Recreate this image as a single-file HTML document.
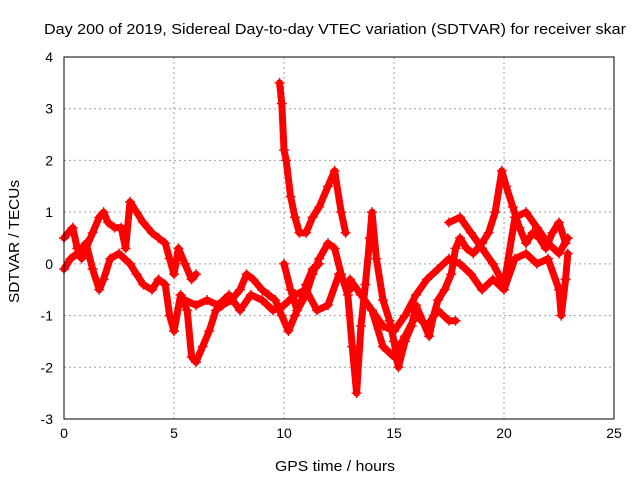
<!DOCTYPE html>
<html><head><meta charset="utf-8"><style>
body{margin:0;background:#fff;}
svg text{font-family:"Liberation Sans",sans-serif;font-size:14px;fill:#000;}
</style></head><body>
<svg id="chart" width="640" height="480">
<text x="44" y="34" textLength="582" lengthAdjust="spacingAndGlyphs" style="font-size:15px">Day 200 of 2019, Sidereal Day-to-day VTEC variation (SDTVAR) for receiver skar</text>
<text x="275" y="471" textLength="120" lengthAdjust="spacingAndGlyphs" style="font-size:15px">GPS time / hours</text>
<text transform="translate(19,303) rotate(-90)" textLength="123" lengthAdjust="spacingAndGlyphs" style="font-size:15px">SDTVAR / TECUs</text>
<g id="grid"></g><g id="axes"></g><g id="marks"></g>
<rect x="64" y="57" width="550" height="362" fill="none" stroke="#000" stroke-width="1"/>
</svg>
<script>
const xTicks=[0,5,10,15,20,25];
const yTicks=[-3,-2,-1,0,1,2,3,4];
const trackA=[[0,0.5],[0.2,0.6],[0.4,0.7],[0.6,0.3],[0.8,0.1],[1,0.3],[1.3,0.6],[1.6,0.9],[1.8,1.0],[2,0.8],[2.3,0.7],[2.6,0.7],[2.8,0.3],[3,1.2],[3.3,1.0],[3.6,0.8],[4,0.6],[4.3,0.5],[4.6,0.4],[4.8,0.1],[5,-0.2],[5.2,0.3],[5.5,0.0],[5.8,-0.3],[6,-0.2]];
const trackB=[[0,-0.1],[0.3,0.1],[0.6,0.2],[1,0.4],[1.3,-0.1],[1.6,-0.5],[1.8,-0.3],[2.1,0.1],[2.5,0.2],[3,0],[3.3,-0.2],[3.6,-0.4],[4,-0.5],[4.3,-0.3],[4.6,-0.4],[4.8,-1.0],[5,-1.3],[5.3,-0.6],[5.6,-0.9],[5.8,-1.8],[6,-1.9],[6.3,-1.6],[6.6,-1.3],[6.9,-0.9],[7.2,-0.8],[7.6,-0.7],[8,-0.5],[8.3,-0.2],[8.6,-0.3],[9,-0.5],[9.3,-0.6],[9.6,-0.7],[9.9,-1.0],[10.2,-1.3],[10.5,-1.0],[10.8,-0.7],[11,-0.4],[11.3,-0.1],[11.6,0.0]];
const trackC=[[5.5,-0.7],[6,-0.8],[6.5,-0.7],[7,-0.8],[7.5,-0.6],[8,-0.9],[8.5,-0.6],[9,-0.7],[9.5,-0.9],[10,-0.8],[10.5,-0.6],[11,-0.5],[11.5,-0.9],[12,-0.8],[12.5,-0.2],[13,-0.5]];
const trackD=[[9.8,3.5],[9.9,3.1],[10,2.2],[10.1,2.0],[10.3,1.3],[10.5,0.9],[10.7,0.6],[11,0.6],[11.3,0.9],[11.6,1.1],[12,1.5],[12.3,1.8],[12.6,1.0],[12.8,0.6]];
const trackE=[[10,0],[10.3,-0.5],[10.6,-0.9],[11,-0.6],[11.3,-0.2],[11.6,0.1],[12,0.4],[12.3,0.3],[12.6,-0.2],[12.9,-0.6],[13.1,-1.6],[13.3,-2.5],[13.5,-1.2],[13.7,-0.4],[13.9,0.5],[14,1.0],[14.2,0.1],[14.5,-0.7],[14.8,-1.1],[15,-1.5],[15.2,-2.0],[15.5,-1.5],[15.8,-1.2],[16,-0.8],[16.3,-1.1],[16.6,-1.4],[16.8,-1.0],[17,-0.7],[17.3,-0.5],[17.6,-0.2],[17.8,0.3],[18,0.5],[18.3,0.3],[18.6,0.2],[19,0.4],[19.3,0.6],[19.6,1.0],[19.9,1.8],[20.1,1.5],[20.4,1.1],[20.7,0.7],[21,0.4],[21.3,0.6],[21.6,0.5],[21.9,0.3],[22.2,0.6],[22.5,0.8],[22.8,0.4]];
const trackF=[[13,-0.3],[13.5,-0.6],[14,-0.9],[14.5,-1.2],[15,-1.3],[15.5,-1.0],[16,-0.6],[16.5,-0.3],[17,-0.1],[17.5,0.1],[18,0.0],[18.5,-0.2],[19,-0.5],[19.5,-0.3],[20,-0.5],[20.5,0.1],[21,0.2],[21.5,0.0],[22,0.1],[22.5,-0.5],[22.6,-1.0],[22.8,-0.3],[22.9,0.2]];
const trackG=[[14,-0.9],[14.5,-1.6],[15,-1.8],[15.5,-1.4],[16,-1.0],[16.5,-1.2],[17,-0.9],[17.5,-1.1],[17.8,-1.1]];
const trackH=[[17.5,0.8],[18,0.9],[18.5,0.6],[19,0.3],[19.5,0.0],[20,-0.4],[20.5,0.9],[21,1.0],[21.5,0.7],[22,0.4],[22.5,0.2],[22.9,0.5]];
const tracks=[trackA,trackB,trackC,trackD,trackE,trackF,trackG,trackH];
const NS='http://www.w3.org/2000/svg';
const X0=64,X1=614,Y0=419,Y1=57;
function sx(t){return X0+(t-0)/(25-0)*(X1-X0);}
function sy(v){return Y0-(v+3)/7*(Y0-Y1);}
function mk(tag,attrs,parent){const e=document.createElementNS(NS,tag);for(const k in attrs)e.setAttribute(k,attrs[k]);parent.appendChild(e);return e;}
const grid=document.getElementById('grid'),axes=document.getElementById('axes'),marks=document.getElementById('marks');
xTicks.forEach(t=>{const x=sx(t);
 if(t>0&&t<25){const g=mk('line',{x1:x,x2:x,y1:Y1,y2:Y0,stroke:'#a0a0a0','stroke-dasharray':'2,3'},grid);
 
 }
 const l=mk('text',{x:x,y:Y0+19,'text-anchor':'middle'},axes);l.textContent=t;
 
 
});
yTicks.forEach(v=>{const y=sy(v);
 if(v>-3&&v<4){const g=mk('line',{x1:X0,x2:X1,y1:y,y2:y,stroke:'#a0a0a0','stroke-dasharray':'2,3'},grid);
 
 }
 const l=mk('text',{x:53,y:y+5,'text-anchor':'end'},axes);l.textContent=v;
 
 
});
tracks.forEach(tr=>{
 const p=mk('polyline',{points:tr.map(d=>sx(d[0])+','+sy(d[1])).join(' '),fill:'none',stroke:'#ff0000','stroke-width':7,'stroke-linejoin':'round','stroke-linecap':'round'},marks);
 
 
 tr.forEach(d=>{const x=sx(d[0]),y=sy(d[1]);
  const m=mk('path',{d:`M${x-5},${y}H${x+5}M${x},${y-5}V${y+5}`,stroke:'#ff0000','stroke-width':1.4},marks);
  
  
 });
});
</script>
</body></html>
